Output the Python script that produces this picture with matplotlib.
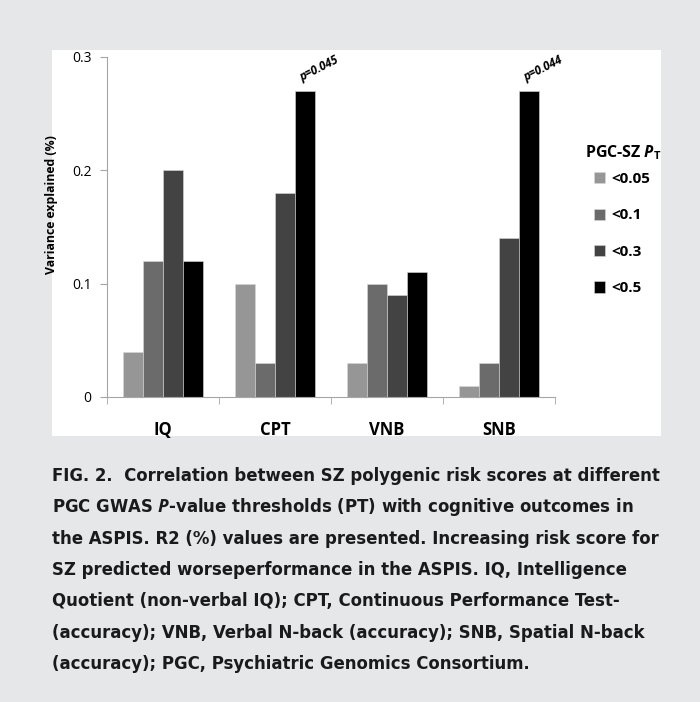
import numpy as np
import matplotlib
matplotlib.use("Agg")
import matplotlib.pyplot as plt
from matplotlib.patches import Rectangle

# データ
categories = ["IQ", "CPT", "VNB", "SNB"]
thresholds = ["<0.05", "<0.1", "<0.3", "<0.5"]
vals_005 = [0.04, 0.10, 0.03, 0.01]
vals_01 = [0.12, 0.03, 0.10, 0.03]
vals_03 = [0.20, 0.18, 0.09, 0.14]
vals_05 = [0.12, 0.27, 0.11, 0.27]
p_notes = {1: "p=0.045", 3: "p=0.044"}

caption_lines = [
    "FIG. 2.  Correlation between SZ polygenic risk scores at different",
    "PGC GWAS $P$-value thresholds (PT) with cognitive outcomes in",
    "the ASPIS. R2 (%) values are presented. Increasing risk score for",
    "SZ predicted worseperformance in the ASPIS. IQ, Intelligence",
    "Quotient (non-verbal IQ); CPT, Continuous Performance Test-",
    "(accuracy); VNB, Verbal N-back (accuracy); SNB, Spatial N-back",
    "(accuracy); PGC, Psychiatric Genomics Consortium.",
]

colors = ["#969696", "#6b6b6b", "#434343", "#000000"]
series = [vals_005, vals_01, vals_03, vals_05]

chart_font = ["Open Sans", "DejaVu Sans"]
cap_font = ["DejaVu Sans"]

plt.rcParams["mathtext.fontset"] = "custom"
plt.rcParams["mathtext.it"] = "Open Sans:bold:italic"
plt.rcParams["mathtext.rm"] = "Open Sans:bold"

W, H = 700, 702
fig = plt.figure(figsize=(7.0, 7.02), dpi=100, facecolor="#e6e7e9")

# 白いパネル
fig.patches.append(Rectangle((52 / W, 1 - 436 / H), (661 - 52) / W, (436 - 50) / H,
                             transform=fig.transFigure, facecolor="white",
                             edgecolor="none", zorder=-10))

ax = fig.add_axes([107 / W, 1 - 397 / H, (555 - 107) / W, (397 - 57) / H])
ax.set_facecolor("white")

x = np.arange(len(categories))
w = 0.18
for i, (vals, c, lab) in enumerate(zip(series, colors, thresholds)):
    ax.bar(x + (i - 1.5) * w, vals, width=w, color=c, edgecolor="#d8d8d8",
           linewidth=0.4, label=lab)

# p値注釈
for idx, txt in p_notes.items():
    ax.text(x[idx] + 1.5 * w - 0.02, vals_05[idx] + 0.006, txt, rotation=27,
            rotation_mode="anchor", fontsize=8.3, fontweight="bold",
            fontstyle="italic", family=chart_font, ha="left", va="bottom")

ax.set_xlim(-0.5, 3.5)
ax.set_ylim(0, 0.3)
ax.set_yticks([0, 0.1, 0.2, 0.3])
ax.set_yticklabels(["0", "0.1", "0.2", "0.3"], family=chart_font, fontsize=10)
ax.set_xticks(x)
ax.set_xticklabels(categories, family=chart_font, fontsize=12, fontweight="bold")
ax.set_xticks(np.arange(-0.5, 4.0, 1.0), minor=True)
ax.tick_params(axis="x", which="major", length=0, pad=17)
ax.tick_params(axis="x", which="minor", length=5, color="#a6a6a6", direction="out")
ax.tick_params(axis="y", length=5, color="#a6a6a6", direction="out", pad=6)
for s in ["top", "right"]:
    ax.spines[s].set_visible(False)
for s in ["left", "bottom"]:
    ax.spines[s].set_color("#a6a6a6")
    ax.spines[s].set_linewidth(0.8)
ax.set_ylabel("Variance explained (%)", family=chart_font, fontsize=8.8,
              fontweight="bold")
ax.yaxis.set_label_coords(-0.109, 0.565)

# 凡例
fig.text(585 / W, 1 - 153 / H, r"PGC-SZ $P_{\mathrm{T}}$", family=chart_font,
         fontsize=11.5, fontweight="bold", ha="left", va="center")
fig.legend(loc="upper left", bbox_to_anchor=(594 / W, 1 - 172 / H),
           frameon=False, borderpad=0, borderaxespad=0,
           handlelength=0.75, handleheight=0.75,
           handletextpad=0.4, labelspacing=1.47,
           prop={"family": chart_font, "weight": "bold", "size": 11})

# キャプション
for k, line in enumerate(caption_lines):
    fig.text(52 / W, 1 - (476 + k * 31.3) / H, line, family=cap_font,
             fontsize=13.2, fontweight="bold", fontstretch="condensed",
             color="#1a1a1a", ha="left", va="center")

fig.savefig("out.png", dpi=100, facecolor=fig.get_facecolor())
